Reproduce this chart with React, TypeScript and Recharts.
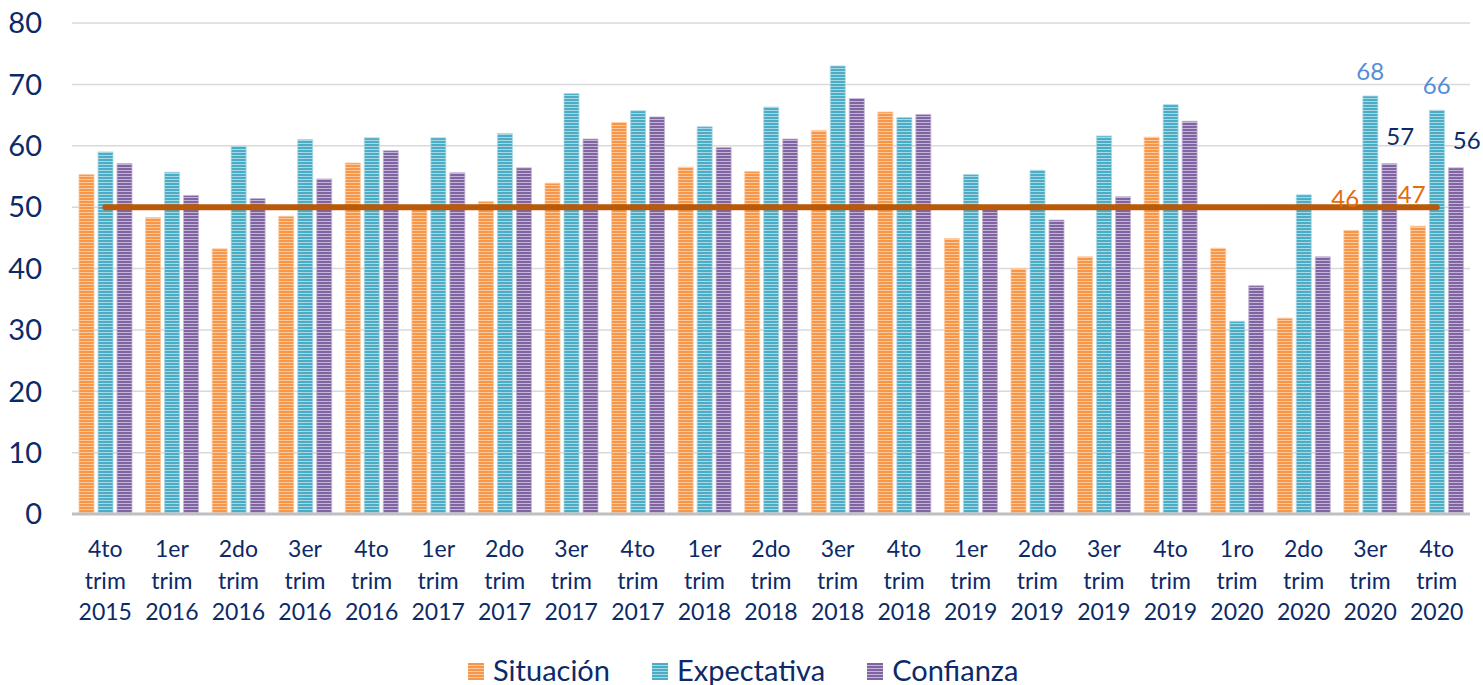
import {
  ComposedChart,
  Bar,
  Line,
  XAxis,
  YAxis,
  CartesianGrid,
  Legend,
  LabelList
} from "recharts";

const categories = [
  "4to trim 2015", "1er trim 2016", "2do trim 2016", "3er trim 2016", "4to trim 2016",
  "1er trim 2017", "2do trim 2017", "3er trim 2017", "4to trim 2017", "1er trim 2018",
  "2do trim 2018", "3er trim 2018", "4to trim 2018", "1er trim 2019", "2do trim 2019",
  "3er trim 2019", "4to trim 2019", "1ro trim 2020", "2do trim 2020", "3er trim 2020",
  "4to trim 2020"
];

const situacion = [
  55.3, 48.3, 43.2, 48.5, 57.2, 50.2, 50.9, 53.9, 63.8, 56.5, 55.8,
  62.5, 65.5, 44.9, 40.0, 41.9, 61.4, 43.3, 31.9, 46.2, 46.9
];
const expectativa = [
  59.0, 55.7, 59.9, 61.0, 61.3, 61.3, 62.0, 68.5, 65.7, 63.1, 66.3,
  73.0, 64.6, 55.3, 56.0, 61.6, 66.7, 31.4, 52.0, 68.1, 65.8
];
const confianza = [
  57.1, 51.9, 51.4, 54.6, 59.2, 55.6, 56.4, 61.1, 64.7, 59.7, 61.1,
  67.7, 65.1, 49.8, 47.9, 51.7, 64.0, 37.2, 41.9, 57.1, 56.4
];
const umbral = 50;
const yTicks = [0, 10, 20, 30, 40, 50, 60, 70, 80];
// only the last two quarters carry value labels
const labelFrom = 19;

const data = categories.map((c, i) => ({
  cat: c,
  situacion: situacion[i],
  expectativa: expectativa[i],
  confianza: confianza[i],
  umbral
}));

const navy = "#0c2a68";
const font = "Lato, 'Open Sans', sans-serif";

// barSize 15 + barGap 4 -> bar centres sit 19px apart
const series = [
  { key: "situacion", name: "Situación", dark: "#f79646", light: "#fbc9a0", id: "stOrange", label: "#e46c0a", dx: -19 - 6, dy: -33 },
  { key: "expectativa", name: "Expectativa", dark: "#4bacc6", light: "#a9d8e5", id: "stTeal", label: "#558ed5", dx: 0, dy: -26 },
  { key: "confianza", name: "Confianza", dark: "#8064a2", light: "#c3b5d6", id: "stPurple", label: navy, dx: 19 + 11, dy: -28 }
];

const XTick = (props: any) => {
  const { x, y, payload } = props;
  const parts = String(payload.value).split(" ");
  return (
    <text x={x} y={y} textAnchor="middle" fill={navy} fontSize={23} fontFamily={font}>
      {parts.map((p, i) => (
        <tspan key={i} x={x} dy={i === 0 ? 43 : 31.5}>
          {p}
        </tspan>
      ))}
    </text>
  );
};

const makeLabel = (color: string, dx: number, dy: number) => (props: any) => {
  const { x, y, value, index } = props;
  if (index < labelFrom) return null;
  return (
    <text
      x={Number(x) + dx}
      y={Number(y) + dy}
      textAnchor="middle"
      dominantBaseline="central"
      fill={color}
      fontSize={24}
      fontFamily={font}
    >
      {Math.round(Number(value))}
    </text>
  );
};

const renderLegend = () => (
  <div style={{ display: "flex", alignItems: "center", fontFamily: font, fontSize: 29, color: navy, lineHeight: "24px" }}>
    {series.map((s, i) => (
      <div key={s.key} style={{ display: "flex", alignItems: "center", marginRight: i < 2 ? 42 : 0 }}>
        <svg width={16} height={17} style={{ marginRight: 9, marginTop: 3 }}>
          <rect width={16} height={17} fill={`url(#${s.id})`} />
        </svg>
        <span>{s.name}</span>
      </div>
    ))}
  </div>
);

export default function App() {
  return (
    <div style={{ position: "absolute", left: 0, top: 0, width: 1483, height: 685, background: "#fff" }}>
      <svg width={0} height={0} style={{ position: "absolute" }}>
        <defs>
          {series.map((s) => (
            <pattern key={s.id} id={s.id} width={4} height={3} patternUnits="userSpaceOnUse">
              <rect width={4} height={3} fill={s.light} />
              <rect width={4} height={2} fill={s.dark} />
            </pattern>
          ))}
        </defs>
      </svg>
      <ComposedChart
        width={1483}
        height={685}
        data={data}
        margin={{ top: 23, right: 13, left: 0, bottom: 61 }}
        barGap={4}
      >
        <CartesianGrid vertical={false} stroke="#d9d9d9" strokeWidth={1.5} />
        <XAxis
          dataKey="cat"
          interval={0}
          height={110}
          tickLine={false}
          tickSize={0}
          tickMargin={0}
          axisLine={{ stroke: "#bfbfbf", strokeWidth: 3 }}
          tick={<XTick />}
        />
        <YAxis
          domain={[0, 80]}
          ticks={yTicks}
          width={72}
          axisLine={false}
          tickLine={false}
          tickSize={0}
          tickMargin={30}
          tick={{ fill: navy, fontSize: 29, fontFamily: font }}
        />
        <Legend
          verticalAlign="middle"
          content={renderLegend}
          wrapperStyle={{ left: 468, top: 658, width: "auto", height: "auto" }}
        />
        {series.map((s) => (
          <Bar
            key={s.key}
            dataKey={s.key}
            name={s.name}
            barSize={15}
            fill={`url(#${s.id})`}
            stroke={s.light}
            strokeWidth={0.8}
            isAnimationActive={false}
          />
        ))}
        <Line
          dataKey="umbral"
          stroke="#b85a0a"
          strokeWidth={6}
          strokeLinecap="round"
          dot={false}
          activeDot={false}
          legendType="none"
          isAnimationActive={false}
        />
        {/* invisible carriers so the value labels sit above the 50 line */}
        {series.map((s) => (
          <Line
            key={`lbl-${s.key}`}
            dataKey={s.key}
            stroke="none"
            dot={false}
            activeDot={false}
            legendType="none"
            isAnimationActive={false}
          >
            <LabelList dataKey={s.key} content={makeLabel(s.label, s.dx, s.dy)} />
          </Line>
        ))}
      </ComposedChart>
    </div>
  );
}
